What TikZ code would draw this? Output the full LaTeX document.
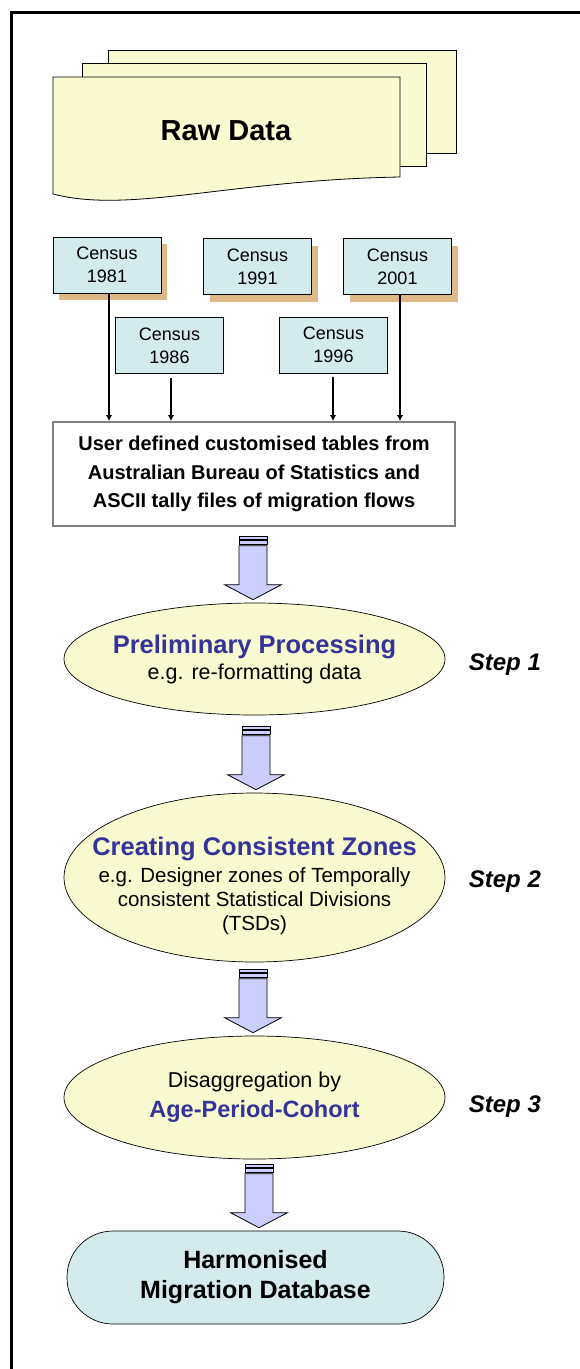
\documentclass[tikz,border=0pt]{standalone}
\usepackage{fontspec}
\setmainfont{Liberation Sans}
\usetikzlibrary{shapes.geometric,arrows.meta,shadows,calc,positioning}

\definecolor{sheetfill}{RGB}{250,250,208}
\definecolor{censusfill}{RGB}{211,235,236}
\definecolor{shadowtan}{RGB}{222,184,135}
\definecolor{arrowlav}{RGB}{204,206,255}
\definecolor{titleblue}{RGB}{51,51,153}
\definecolor{tblgray}{RGB}{128,128,128}

\newcommand{\steptitle}[2][25.5]{{\fontsize{#1}{28}\selectfont\bfseries\color{titleblue}#2}}

\begin{document}
\begin{tikzpicture}[x=1pt,y=-1pt,
	census/.style={draw,line width=0.7pt,fill=censusfill,minimum width=108pt,minimum height=56pt,align=center,font=\fontsize{18}{23}\selectfont},
	shadowed/.style={drop shadow={shadow xshift=6pt,shadow yshift=-7pt,fill=shadowtan,opacity=1}},
	sheet/.style={draw,line width=0.8pt,fill=sheetfill},
	stepell/.style={ellipse,draw,line width=0.7pt,fill=sheetfill,minimum width=381pt,inner sep=0pt},
	feed/.style={line width=2.4pt,-{Latex[length=6pt,width=6.5pt]}},
	bigarrow/.style={draw,line width=0.8pt,fill=arrowlav},
	steplbl/.style={font=\fontsize{24}{28}\selectfont\bfseries\itshape}]
	\useasboundingbox (0,0) rectangle (580,1369);
	\draw[line width=3pt] (580,12) -- (11,12) -- (11,1369);

	\draw[sheet] (108,50) rectangle (456,153);
	\draw[sheet] (82,63) rectangle (426,166);
	\draw[sheet] (53,77) -- (400,77) -- (400,177) .. controls (230,180) and (130,214) .. (53,194) -- cycle;
	\node[font=\fontsize{29}{34}\selectfont\bfseries] (raw) at (226,131) {Raw Data};

	\foreach \yr/\x/\y/\opt in {1981/107/265/shadowed,1991/257.5/266.5/shadowed,2001/397.5/266.5/shadowed,1986/169.5/345.5/,1996/333.5/345/}
		\node[census,\opt] (c\yr) at (\x,\y) {Census\\\yr};

	\node[draw=tblgray,line width=2pt,fill=white,minimum width=402pt,minimum height=104pt,align=center,font=\fontsize{20}{28.5}\selectfont\bfseries] (tbl) at (254,474) {User defined customised tables from\\Australian Bureau of Statistics and\\ASCII tally files of migration flows};

	\foreach \yr/\dx/\gap in {1981/2/0,1986/1.5/4,1996/-0.5/4,2001/2.5/0}
		\draw[feed,shorten <=\gap pt] ([xshift=\dx pt]c\yr.south) -- ([xshift=\dx pt]c\yr.south |- tbl.north);

	\node[stepell,minimum height=112pt] (pp) at (254.5,659) {};
	\node[align=center,font=\fontsize{21.5}{24}\selectfont] (pptxt) at (pp) {\steptitle{Preliminary Processing}\\[2pt]e.g. re-formatting data};
	\node[steplbl,right=20pt of pp,yshift=-6pt] (s1) {Step 1};

	\node[stepell,minimum height=169pt] (cz) at (254.5,877.5) {};
	\node[align=center,font=\fontsize{20.5}{24}\selectfont,yshift=-8pt] (cztxt) at (cz) {\steptitle{Creating Consistent Zones}\\[3pt]e.g. Designer zones of Temporally\\consistent Statistical Divisions\\(TSDs)};
	\node[steplbl,right=20pt of cz,yshift=-4.5pt] (s2) {Step 2};

	\node[stepell,minimum height=123pt] (apc) at (254.5,1097.5) {};
	\node[align=center,font=\fontsize{21.5}{24}\selectfont] (apctxt) at (apc) {Disaggregation by\\[6pt]\steptitle[23.5]{Age-Period-Cohort}};
	\node[steplbl,right=20pt of apc,yshift=-9.5pt] (s3) {Step 3};

	\node[draw,line width=0.7pt,fill=censusfill,rounded corners=46pt,minimum width=377pt,minimum height=93pt,align=center,font=\fontsize{25}{30}\selectfont\bfseries] (hmd) at (255.5,1277.5) {Harmonised\\Migration Database};

	\foreach \a/\b/\dx in {tbl/pp/-1.5,pp/cz/1.5,cz/apc/-1.5,apc/hmd/3.5}{
		\draw[bigarrow] let \p1=([xshift=\dx pt]\b.north) in (\x1-14pt,\y1+66pt) rectangle (\x1+14pt,\y1+63pt);
		\draw[bigarrow] let \p1=([xshift=\dx pt]\b.north) in (\x1-14pt,\y1+62pt) rectangle (\x1+14pt,\y1+58pt);
		\draw[bigarrow] let \p1=([xshift=\dx pt]\b.north) in (\x1-14pt,\y1+57pt) -- (\x1-14pt,\y1+18pt) -- (\x1-28.5pt,\y1+18pt) -- (\x1,\y1+3pt) -- (\x1+28.5pt,\y1+18pt) -- (\x1+14pt,\y1+18pt) -- (\x1+14pt,\y1+57pt) -- cycle;
	}
\end{tikzpicture}
\end{document}
